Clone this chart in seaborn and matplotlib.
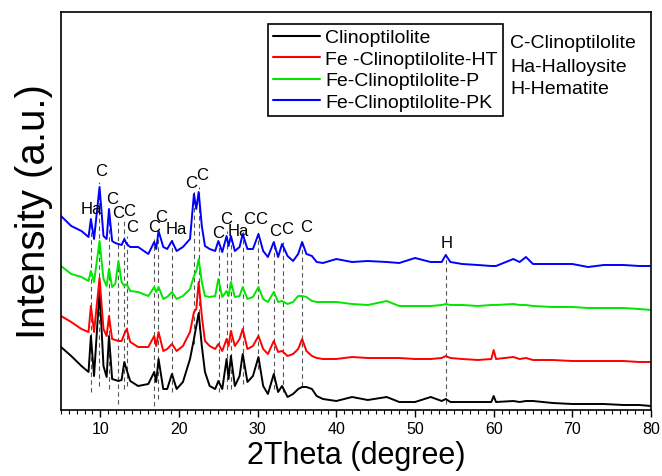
import numpy as np
import pandas as pd
import matplotlib
matplotlib.use('Agg')
import matplotlib.pyplot as plt
from matplotlib.ticker import MultipleLocator
import seaborn as sns

# 2theta grid (degree)
two_theta = [5.0, 6.3, 7.6, 8.5, 8.8, 9.2, 9.9, 10.4, 10.8, 11.1,
             11.5, 11.9, 12.3, 12.7, 13.05, 13.35, 13.8, 14.8, 16.1, 16.85,
             17.1, 17.4, 18.0, 18.5, 19.1, 19.7, 20.5, 21.4, 21.9, 22.2,
             22.5, 22.9, 23.3, 23.9, 24.6, 25.0, 25.5, 26.05, 26.3, 26.6,
             27.1, 27.7, 28.1, 28.7, 29.4, 30.1, 30.7, 31.3, 32.05, 32.6,
             33.1, 33.8, 34.5, 35.15, 35.65, 36.2, 36.9, 37.5, 38.3, 40.0,
             42.0, 44.0, 46.4, 48.0, 50.0, 52.0, 53.4, 53.9, 54.5, 56.0,
             58.0, 59.7, 60.0, 60.3, 62.5, 63.3, 64.1, 65.0, 67.5, 70.0,
             72.0, 74.0, 76.5, 78.5, 80.0]

# intensities (a.u., stacked as in the figure)
clino = [61, 52, 42, 36, 72, 32, 118, 42, 31, 72,
         29, 28, 27, 28, 46, 38, 27, 22, 24, 36,
         26, 49, 19, 19, 34, 19, 26, 49, 69, 82,
         95, 62, 36, 22, 19, 27, 19, 49, 29, 52,
         22, 32, 54, 26, 32, 51, 22, 14, 34, 16,
         22, 11, 14, 19, 21, 21, 19, 12, 9, 7,
         11, 8, 11, 6, 6, 11, 7, 9, 6, 6,
         6, 6, 12, 6, 7, 6, 7, 7, 5, 4,
         4, 4, 3, 3, 2]
fe_ht = [92, 86, 79, 76, 102, 76, 130, 79, 72, 92,
         69, 68, 67, 67, 74, 79, 66, 61, 61, 72,
         62, 76, 57, 59, 64, 57, 62, 76, 96, 99,
         126, 92, 67, 62, 59, 64, 57, 69, 62, 77,
         62, 69, 79, 59, 62, 72, 59, 54, 67, 56,
         57, 52, 54, 59, 69, 57, 52, 50, 49, 49,
         51, 50, 50, 50, 49, 49, 50, 52, 50, 49,
         48, 49, 58, 49, 51, 49, 50, 48, 48, 47,
         47, 47, 47, 46, 46]
fe_p = [142, 134, 131, 127, 137, 126, 167, 129, 122, 139,
        121, 124, 147, 126, 122, 124, 117, 116, 112, 121,
        116, 121, 109, 111, 116, 109, 112, 119, 132, 137,
        149, 126, 112, 111, 112, 129, 111, 117, 112, 126,
        111, 112, 121, 109, 111, 121, 109, 106, 116, 106,
        107, 104, 106, 112, 112, 111, 107, 106, 106, 106,
        104, 103, 107, 102, 102, 102, 103, 104, 103, 103,
        102, 103, 103, 103, 104, 103, 103, 102, 101, 101,
        100, 100, 100, 99, 98]
fe_pk = [192, 182, 177, 171, 189, 169, 221, 172, 169, 199,
         167, 165, 164, 163, 169, 164, 161, 161, 154, 166,
         159, 177, 161, 159, 167, 157, 161, 169, 214, 199,
         216, 182, 162, 159, 157, 167, 156, 172, 162, 172,
         157, 161, 174, 159, 159, 174, 157, 151, 166, 151,
         164, 152, 147, 154, 166, 154, 152, 146, 145, 149,
         146, 147, 146, 145, 150, 146, 146, 153, 146, 144,
         143, 142, 142, 142, 149, 146, 151, 144, 144, 144,
         141, 143, 143, 142, 142]

samples = ['Clinoptilolite', 'Fe -Clinoptilolite-HT',
           'Fe-Clinoptilolite-P', 'Fe-Clinoptilolite-PK']
colors = ['#000000', '#FF0000', '#00E600', '#0000FF']

# phase markers: position, label, label x, label y, dashed line top/bottom
peak_pos = [8.8, 9.87, 11.14, 12.28, 13.0, 13.35, 16.85, 17.36, 19.14, 21.94,
            22.53, 25.03, 26.05, 26.6, 28.08, 30.1, 32.06, 33.17, 35.66, 53.9]
peak_lab = ['Ha', 'C', 'C', 'C', 'C', 'C', 'C', 'C', 'Ha', 'C',
            'C', 'C', 'C', 'Ha', 'C', 'C', 'C', 'C', 'C', 'H']
lab_x = [8.8, 10.1, 11.5, 12.2, 13.7, 14.0, 16.8, 17.7, 19.7, 21.6,
         23.0, 24.95, 26.0, 27.5, 28.95, 30.5, 32.2, 33.7, 36.1, 54.0]
lab_y = [200, 238, 209, 196, 198, 181, 181, 192, 180, 226,
         233, 176, 189, 178, 189, 189, 177, 179, 181, 166]
line_top = [187, 226, 199, 186, 187, 172, 169, 179, 169, 217,
            221, 166, 177, 168, 177, 179, 164, 166, 169, 154]
line_bot = [16, 22, 19, 4, 19, 22, 2, 9, 16, 64,
            79, 16, 19, 19, 24, 39, 19, 16, 22, 4]

rows = []
for name, vals in zip(samples, [clino, fe_ht, fe_p, fe_pk]):
    for t, v in zip(two_theta, vals):
        rows.append({'two_theta': t, 'intensity': v, 'sample': name})
df = pd.DataFrame(rows)

sns.set_theme(style='ticks')
plt.rcParams['font.family'] = ['Liberation Sans', 'DejaVu Sans']
plt.rcParams['text.color'] = 'black'
plt.rcParams['axes.labelcolor'] = 'black'
plt.rcParams['xtick.color'] = 'black'
plt.rcParams['xtick.labelcolor'] = 'black'

fig = plt.figure(figsize=(6.62, 4.77), dpi=100)
ax = fig.add_axes([61 / 662, 66 / 477, 590 / 662, 398 / 477])

ax.vlines(peak_pos, line_bot, line_top, colors='#555555',
          linestyles=(0, (4, 3)), linewidth=0.8, zorder=1)

sns.lineplot(data=df, x='two_theta', y='intensity', hue='sample',
             hue_order=samples, palette=colors, estimator=None, sort=False,
             linewidth=1.4, ax=ax, zorder=2)

for x, y, s in zip(lab_x, lab_y, peak_lab):
    ax.text(x, y, s, ha='center', va='center', fontsize=12, color='black')

ax.set_xlim(5, 80)
ax.set_ylim(-2, 396)
ax.xaxis.set_major_locator(MultipleLocator(10))
ax.xaxis.set_minor_locator(MultipleLocator(1))
ax.set_xticks([10, 20, 30, 40, 50, 60, 70, 80])
ax.tick_params(axis='x', which='major', direction='out', length=5, width=1,
               labelsize=11.5, pad=3, color='black', labelcolor='black')
ax.tick_params(axis='x', which='minor', direction='out', length=3, width=0.8,
               color='black')
ax.set_yticks([])
for sp in ax.spines.values():
    sp.set_visible(True)
    sp.set_color('black')
    sp.set_linewidth(1.2)

ax.set_xlabel('2Theta (degree)', fontsize=22, labelpad=3, color='black')
ax.set_ylabel('Intensity (a.u.)', fontsize=29, labelpad=6, color='black')

handles, labels = ax.get_legend_handles_labels()
leg = ax.legend(handles, labels, loc='upper left',
                bbox_to_anchor=(207 / 590, 386 / 398), borderaxespad=0,
                fontsize=14, frameon=True, fancybox=False, framealpha=1,
                edgecolor='black', borderpad=0.25, labelspacing=0.2,
                handlelength=2.4, handletextpad=0.3)
leg.get_frame().set_linewidth(1.2)
for h in leg.get_lines():
    h.set_linewidth(1.5)
for t in leg.get_texts():
    t.set_color('black')

for i, s in enumerate(['C-Clinoptilolite', 'Ha-Halloysite', 'H-Hematite']):
    ax.text(449 / 590, (367 - 23 * i) / 398, s, transform=ax.transAxes,
            ha='left', va='center', fontsize=14, color='black')

fig.savefig('out.png', dpi=100)
